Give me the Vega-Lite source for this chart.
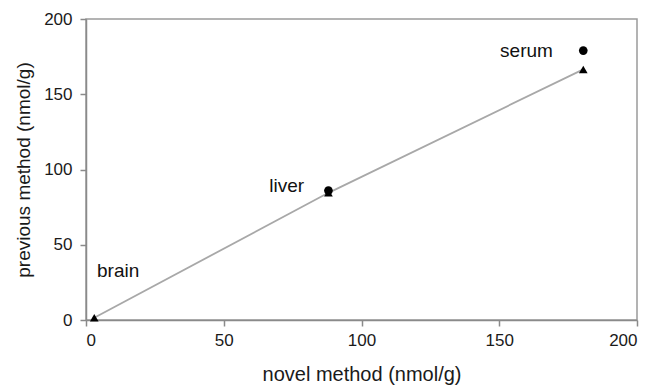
{
  "$schema": "https://vega.github.io/schema/vega-lite/v6.json",
  "width": 551,
  "height": 301,
  "autosize": {"type": "none"},
  "padding": {"left": 86, "top": 19, "right": 24, "bottom": 66},
  "background": "white",
  "config": {
    "font": "Liberation Sans",
    "view": {"stroke": "#9a9a9a", "strokeWidth": 1.5},
    "axis": {
      "domainColor": "#8a8a8a",
      "domainWidth": 1.5,
      "tickColor": "#8a8a8a",
      "tickWidth": 1.5,
      "tickSize": 6,
      "grid": false,
      "labelFont": "Liberation Sans",
      "labelFontSize": 17,
      "labelColor": "#1a1a1a",
      "titleFont": "Liberation Sans",
      "titleFontSize": 20,
      "titleFontWeight": "normal",
      "titleColor": "#1a1a1a"
    }
  },
  "datasets": {
    "pts": [
      {"sample": "liver", "method": "circle", "novel": 88, "previous": 86},
      {"sample": "serum", "method": "circle", "novel": 180.5, "previous": 179},
      {"sample": "brain", "method": "triangle", "novel": 3, "previous": 1.5},
      {"sample": "liver", "method": "triangle", "novel": 88, "previous": 84.5},
      {"sample": "serum", "method": "triangle", "novel": 180.5, "previous": 166.5}
    ],
    "labels": [
      {"label": "serum", "novel": 150.3, "previous": 179},
      {"label": "liver", "novel": 66.5, "previous": 89},
      {"label": "brain", "novel": 4, "previous": 32.5}
    ]
  },
  "layer": [
    {
      "data": {"name": "pts"},
      "transform": [{"filter": "datum.method === 'triangle'"}],
      "mark": {"type": "line", "color": "#a8a8a8", "strokeWidth": 1.8},
      "encoding": {
        "x": {"field": "novel", "type": "quantitative", "scale": {"domain": [0, 200], "nice": false}, "axis": {"values": [0, 50, 100, 150, 200], "title": "novel method (nmol/g)", "titlePadding": 16, "labelPadding": 6}},
        "y": {"field": "previous", "type": "quantitative", "scale": {"domain": [0, 200], "nice": false}, "axis": {"values": [0, 50, 100, 150, 200], "title": "previous method (nmol/g)", "titlePadding": 10, "labelPadding": 8, "titleFontSize": 19}}
      }
    },
    {
      "data": {"name": "pts"},
      "transform": [{"filter": "datum.method === 'triangle'"}],
      "mark": {"type": "point", "shape": "triangle-up", "filled": true, "color": "#000000", "size": 75, "opacity": 1},
      "encoding": {
        "x": {"field": "novel", "type": "quantitative"},
        "y": {"field": "previous", "type": "quantitative"}
      }
    },
    {
      "data": {"name": "pts"},
      "transform": [{"filter": "datum.method === 'circle'"}],
      "mark": {"type": "point", "shape": "circle", "filled": true, "color": "#000000", "size": 75, "opacity": 1},
      "encoding": {
        "x": {"field": "novel", "type": "quantitative"},
        "y": {"field": "previous", "type": "quantitative"}
      }
    },
    {
      "data": {"name": "labels"},
      "mark": {"type": "text", "align": "left", "baseline": "middle", "fontSize": 19, "color": "#111111", "font": "Liberation Sans"},
      "encoding": {
        "x": {"field": "novel", "type": "quantitative"},
        "y": {"field": "previous", "type": "quantitative"},
        "text": {"field": "label"}
      }
    }
  ]
}
